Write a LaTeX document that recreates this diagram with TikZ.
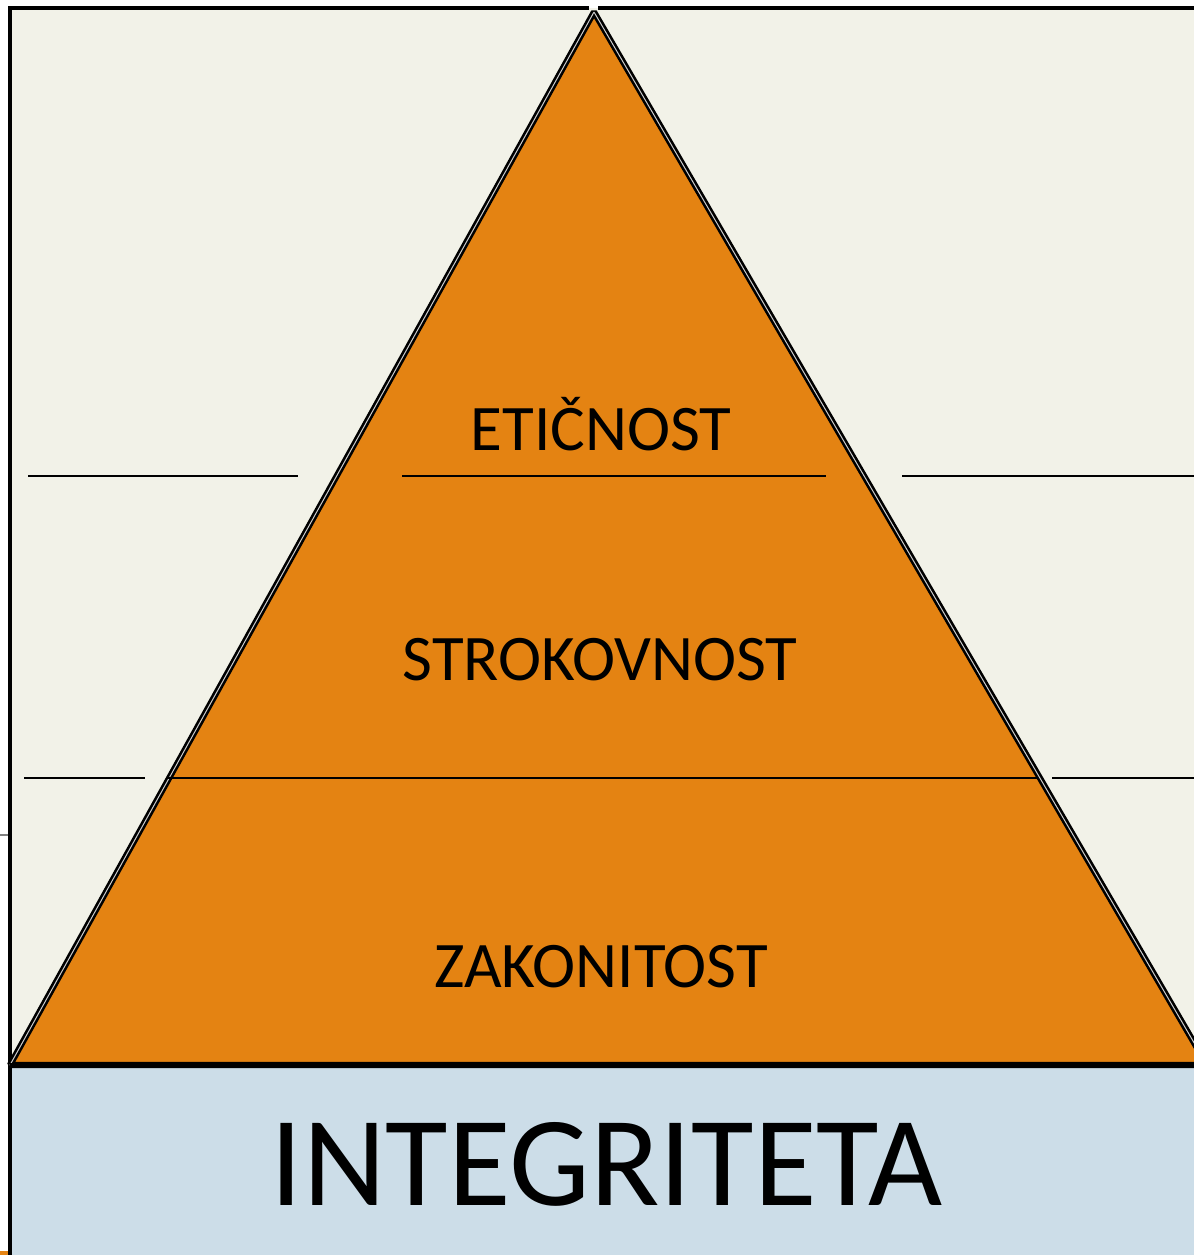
\documentclass[tikz,border=0pt]{standalone}
\usepackage{fontspec}
\setmainfont{Carlito}
\definecolor{pyramidorange}{HTML}{E48312}
\definecolor{paper}{HTML}{F2F2E8}
\definecolor{baseblue}{HTML}{CCDDE8}

\begin{document}
\begin{tikzpicture}[
        x=0.5pt, y=-0.5pt, % pixel grid of the slide
        level/.style={font=\fontsize{32.5}{38}\selectfont, inner sep=0pt, anchor=base}, % Pyramid labels
        rule/.style={line width=1.2pt}, % Level separators
        edge/.style={draw=black, line width=1.3pt, double=white!80!black, double distance=0.5pt, line join=bevel} % Pyramid outline
        ]

        % Canvas
        \useasboundingbox (0,0) rectangle (1194,1255);
        \fill[white] (0,0) rectangle (1194,1255);
        \fill[paper] (10,8) rectangle (1194,1065);
        \fill[baseblue] (10,1065) rectangle (1194,1255);

        % Frame
        \draw[line width=1.6pt] (8,8) -- (589,8);
        \draw[line width=1.6pt] (598,8) -- (1194,8);
        \draw[line width=1.6pt] (10,8) -- (10,1255);
        \draw[gray, line width=0.6pt] (0,835) -- (8,835);
        \fill[pyramidorange] (0,1251) rectangle (8,1255);

        % Pyramid
        \coordinate (apex) at (594,12);
        \coordinate (left) at (10,1065);
        \coordinate (right) at (1207,1065);
        \begin{scope}
            \clip (0,0) rectangle (1194,1255);
            \filldraw[fill=pyramidorange, edge] (left) -- (apex) -- (right) -- cycle;
        \end{scope}

        % Level separators
        \draw[rule] (28,476) -- (298,476);
        \draw[rule] (402,476) -- (826,476);
        \draw[rule] (902,476) -- (1194,476);
        \draw[rule] (24,778) -- (145,778);
        \draw[rule] (166,778) -- (1038,778);
        \draw[rule] (1052,778) -- (1194,778);
        \draw[line width=1.8pt] (10,1065) -- (1194,1065);

        % Define nodes
        \node[level] (etika) at (601,450) {ETIČNOST};
        \node[level] (stroka) at (600,680) {STROKOVNOST};
        \node[level] (zakon) at (601,987) {ZAKONITOST};
        \node[level, font=\fontsize{64}{72}\selectfont] (integ) at (607,1205) {INTEGRITETA};

    \end{tikzpicture}
\end{document}
